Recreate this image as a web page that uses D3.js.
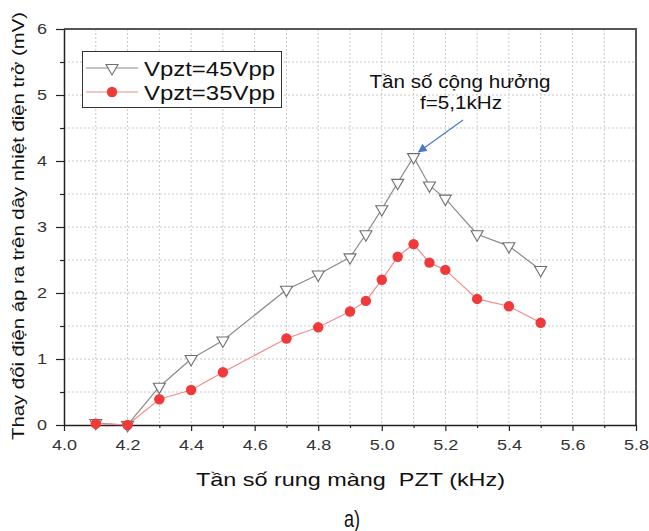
<!DOCTYPE html>
<html>
<head>
<meta charset="utf-8">
<script src="https://cdn.jsdelivr.net/npm/d3@7"></script>
<style>
  html, body { margin: 0; padding: 0; background: #fff; }
  svg { display: block; }
  text { font-family: "Liberation Sans", Arial, sans-serif; }
</style>
</head>
<body>
<svg id="chart" width="649" height="531"></svg>
<script>
// Frequency sweep of the PZT membrane (kHz)
const freq = [4.1, 4.2, 4.3, 4.4, 4.5, 4.7, 4.8, 4.9, 4.95, 5.0, 5.05, 5.1, 5.15, 5.2, 5.3, 5.4, 5.5];
// Thermistor wire output voltage change (mV) for each drive amplitude
const v45 = [0.03, 0.00, 0.58, 1.00, 1.28, 2.05, 2.28, 2.54, 2.89, 3.27, 3.67, 4.06, 3.63, 3.43, 2.89, 2.71, 2.35];
const v35 = [0.02, 0.00, 0.39, 0.53, 0.80, 1.31, 1.48, 1.72, 1.88, 2.20, 2.55, 2.74, 2.46, 2.35, 1.91, 1.80, 1.55];
const seriesNames = ["Vpzt=45Vpp", "Vpzt=35Vpp"];
const xTicks = [4.0, 4.2, 4.4, 4.6, 4.8, 5.0, 5.2, 5.4, 5.6, 5.8];
const xMinor = [4.1, 4.3, 4.5, 4.7, 4.9, 5.1, 5.3, 5.5, 5.7];
const yTicks = [0, 1, 2, 3, 4, 5, 6];
const yMinor = [0.5, 1.5, 2.5, 3.5, 4.5, 5.5];
const xTitle = "Tần số rung màng  PZT (kHz)";
const yTitle = "Thay đổi điện áp ra trên dây nhiệt điện trở (mV)";
const noteLines = ["Tần số cộng hưởng", "f=5,1kHz"];
const resonance = 5.1;
const caption = "a)";

const svg = d3.select("#chart");
const plotL = 64, plotR = 636, plotT = 29, plotB = 425;
const x = d3.scaleLinear().domain([4.0, 5.8]).range([plotL, plotR]);
const y = d3.scaleLinear().domain([0, 6]).range([plotB, plotT]);
const sx = 1.2; // horizontal glyph widening used for tick labels

// dotted grid at major and minor positions
const grid = svg.append("g");
grid.selectAll("line.gx").data(xTicks.concat(xMinor).filter(d => d > 4.0 && d < 5.8))
  .join("line").attr("x1", d => x(d)).attr("x2", d => x(d)).attr("y1", plotT).attr("y2", plotB)
  .attr("stroke", "#c8c8c8").attr("stroke-width", 1).attr("stroke-dasharray", "2,2");
grid.selectAll("line.gy").data(yTicks.concat(yMinor).filter(d => d > 0 && d < 6))
  .join("line").attr("x1", plotL).attr("x2", plotR).attr("y1", d => y(d)).attr("y2", d => y(d))
  .attr("stroke", "#c8c8c8").attr("stroke-width", 1).attr("stroke-dasharray", "2,2");

// frame top and right
svg.append("path").attr("d", `M${plotL},${plotT}H${plotR}V${plotB}`)
  .attr("fill", "none").attr("stroke", "#555").attr("stroke-width", 2);

// axes
const xAxis = svg.append("g").attr("transform", `translate(0,${plotB})`)
  .call(d3.axisBottom(x).tickValues(xTicks).tickFormat(d3.format(".1f")).tickSize(6).tickSizeOuter(0));
svg.append("g").attr("transform", `translate(0,${plotB})`)
  .call(d3.axisBottom(x).tickValues(xMinor).tickFormat("").tickSize(3).tickSizeOuter(0))
  .call(g => g.select(".domain").remove());
const yAxis = svg.append("g").attr("transform", `translate(${plotL},0)`)
  .call(d3.axisLeft(y).tickValues(yTicks).tickFormat(d3.format("d")).tickSize(8).tickSizeOuter(0));
svg.append("g").attr("transform", `translate(${plotL},0)`)
  .call(d3.axisLeft(y).tickValues(yMinor).tickFormat("").tickSize(4).tickSizeOuter(0))
  .call(g => g.select(".domain").remove());

svg.selectAll(".domain").attr("stroke", "#222").attr("stroke-width", 1.5);
svg.selectAll(".tick line").attr("stroke", "#222").attr("stroke-width", 1.2);
xAxis.selectAll("text").attr("font-size", 15).attr("fill", "#333")
  .attr("y", 25).attr("dy", null)
  .attr("font-family", "'Liberation Sans', Arial, sans-serif")
  .attr("transform", `scale(${sx},1)`);
yAxis.selectAll("text").attr("font-size", 15).attr("fill", "#333")
  .attr("x", -17 / sx)
  .attr("font-family", "'Liberation Sans', Arial, sans-serif")
  .attr("transform", `scale(${sx},1)`);

// series lines
const line = d3.line().x(d => x(d[0])).y(d => y(d[1]));
const s45 = freq.map((f, i) => [f, v45[i]]);
const s35 = freq.map((f, i) => [f, v35[i]]);
svg.append("path").datum(s45).attr("d", line).attr("fill", "none").attr("stroke", "#8a8a8a").attr("stroke-width", 1.2);
svg.append("path").datum(s35).attr("d", line).attr("fill", "none").attr("stroke", "#f58a8a").attr("stroke-width", 1.2);

// markers
const tri = d3.symbol().type(d3.symbolTriangle).size(62);
svg.append("g").selectAll("path").data(s45).join("path")
  .attr("d", tri)
  .attr("transform", d => `translate(${x(d[0])},${y(d[1])}) rotate(180)`)
  .attr("fill", "#fff").attr("stroke", "#6e6e6e").attr("stroke-width", 1.1);
svg.append("g").selectAll("circle").data(s35).join("circle")
  .attr("cx", d => x(d[0])).attr("cy", d => y(d[1])).attr("r", 5.2)
  .attr("fill", "#f03a3a");

// legend
const lg = svg.append("g");
lg.append("rect").attr("x", 82.5).attr("y", 51.5).attr("width", 199).attr("height", 56)
  .attr("fill", "#fff").attr("stroke", "#333").attr("stroke-width", 1);
const rows = [
  { name: seriesNames[0], y: 68, color: "#8a8a8a", kind: "tri" },
  { name: seriesNames[1], y: 92, color: "#f58a8a", kind: "dot" }
];
rows.forEach(r => {
  lg.append("line").attr("x1", 86).attr("x2", 138).attr("y1", r.y).attr("y2", r.y)
    .attr("stroke", r.color).attr("stroke-width", 1.2);
  if (r.kind === "tri") {
    lg.append("path").attr("d", tri).attr("transform", `translate(112,${r.y}) rotate(180)`)
      .attr("fill", "#fff").attr("stroke", "#6e6e6e").attr("stroke-width", 1.1);
  } else {
    lg.append("circle").attr("cx", 112).attr("cy", r.y).attr("r", 5.2).attr("fill", "#f03a3a");
  }
  lg.append("text").attr("x", 144).attr("y", r.y + 7.5).attr("font-size", 20).attr("fill", "#111")
    .attr("textLength", 131).attr("lengthAdjust", "spacingAndGlyphs").text(r.name);
});

// resonance annotation
const peakY = y(v45[freq.indexOf(resonance)]);
svg.append("defs").append("marker").attr("id", "arrowHead")
  .attr("viewBox", "0 0 10 10").attr("refX", 9).attr("refY", 5)
  .attr("markerWidth", 9).attr("markerHeight", 9).attr("markerUnits", "userSpaceOnUse")
  .attr("orient", "auto")
  .append("path").attr("d", "M0,0L10,5L0,10Z").attr("fill", "#4a78c8");
svg.append("line").attr("x1", 463).attr("y1", 120).attr("x2", x(resonance) + 5).attr("y2", peakY - 5)
  .attr("stroke", "#4a78c8").attr("stroke-width", 1.2).attr("marker-end", "url(#arrowHead)");
svg.append("text").attr("x", 460).attr("y", 88).attr("text-anchor", "middle").attr("font-size", 18)
  .attr("fill", "#111").attr("textLength", 181).attr("lengthAdjust", "spacingAndGlyphs").text(noteLines[0]);
svg.append("text").attr("x", 461).attr("y", 108.5).attr("text-anchor", "middle").attr("font-size", 18)
  .attr("fill", "#111").attr("textLength", 82).attr("lengthAdjust", "spacingAndGlyphs").text(noteLines[1]);

// axis titles
svg.append("text").attr("x", 350.5).attr("y", 486).attr("text-anchor", "middle").attr("font-size", 19)
  .style("white-space", "pre")
  .attr("fill", "#111").attr("textLength", 309).attr("lengthAdjust", "spacingAndGlyphs").text(xTitle);
svg.append("text").attr("transform", "translate(24,226) rotate(-90)").attr("text-anchor", "middle")
  .attr("font-size", 17).attr("fill", "#111").attr("textLength", 428).attr("lengthAdjust", "spacingAndGlyphs")
  .text(yTitle);

// panel caption
svg.append("text").attr("x", 352).attr("y", 527).attr("text-anchor", "middle")
  .attr("font-family", "'DejaVu Sans Condensed', 'DejaVu Sans', sans-serif").attr("font-size", 24)
  .attr("fill", "#111").attr("textLength", 16).attr("lengthAdjust", "spacingAndGlyphs").text(caption);
</script>
</body>
</html>
